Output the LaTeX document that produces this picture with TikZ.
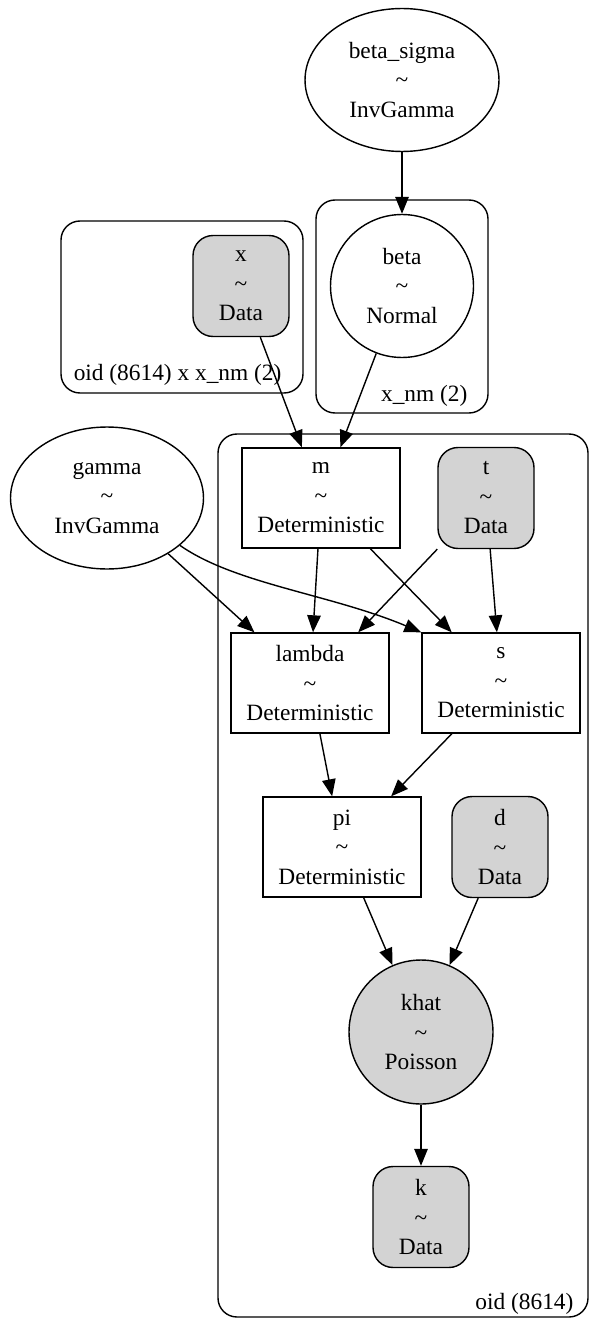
\documentclass[tikz,border=0pt]{standalone}
\usepackage{fontspec}
\setmainfont{Liberation Serif}
\usepackage{xcolor}
\usetikzlibrary{shapes.geometric,arrows.meta}
\definecolor{obsgray}{HTML}{D3D3D3}

\begin{document}
\begin{tikzpicture}[x=0.02cm,y=-0.02cm,>={Triangle[length=0.34cm,width=0.27cm]},line width=0.8pt,
        font=\fontsize{13.3}{16.8}\selectfont,
        var/.style={draw,align=center,inner sep=0pt},
        detbox/.style={var,rectangle,minimum width=3.16cm,minimum height=2cm},
        databox/.style={var,rectangle,rounded corners=0.4cm,fill=obsgray,minimum width=1.92cm,minimum height=2.02cm},
        plate/.style={draw,rounded corners=0.38cm}]
        \useasboundingbox (0,0) rectangle (589,1321);
        % plates
        \draw [plate] (61,221) rectangle (303,393);
        \node [anchor=base east] (platexlab) at (288,380) {oid (8614) x x\_nm (2)};
        \draw [plate] (316,200) rectangle (488,413);
        \node [anchor=base east] (platebetalab) at (474,401) {x\_nm (2)};
        \draw [plate] (218,434) rectangle (588,1317);
        \node [anchor=base east] (plateoidlab) at (580,1309) {oid (8614)};
        % variables
        \node [var,ellipse,minimum width=3.88cm,minimum height=2.86cm] (betasigma) at (402,80) {beta\_sigma\\\textasciitilde\\InvGamma};
        \node [var,circle,minimum size=2.86cm] (beta) at (402,286) {beta\\\textasciitilde\\Normal};
        \node [databox] (x) at (241,286) {x\\\textasciitilde\\Data};
        \node [var,ellipse,minimum width=3.86cm,minimum height=2.84cm] (gamma) at (107,498) {gamma\\\textasciitilde\\InvGamma};
        \node [detbox] (m) at (321,498) {m\\\textasciitilde\\Deterministic};
        \node [databox] (t) at (486,498) {t\\\textasciitilde\\Data};
        \node [detbox] (lambda) at (310,683) {lambda\\\textasciitilde\\Deterministic};
        \node [detbox] (s) at (501,683) {s\\\textasciitilde\\Deterministic};
        \node [detbox] (pi) at (342,847) {pi\\\textasciitilde\\Deterministic};
        \node [databox] (d) at (500,847) {d\\\textasciitilde\\Data};
        \node [var,circle,fill=obsgray,minimum size=2.88cm] (khat) at (421,1032) {khat\\\textasciitilde\\Poisson};
        \node [databox] (k) at (421,1217) {k\\\textasciitilde\\Data};
        % edges
        \draw [->] (betasigma) -- (beta);
        \draw [->] (x) -- (m);
        \draw [->] (beta) -- (m);
        \draw [->] (gamma) -- (lambda);
        \draw [->] (gamma.-33) .. controls (235,584) and (330,594) .. (s.north west);
        \draw [->] (m) -- (lambda);
        \draw [->] (m) -- (s);
        \draw [->] (t) -- (lambda);
        \draw [->] (t) -- (s);
        \draw [->] (lambda) -- (pi);
        \draw [->] (s) -- (pi);
        \draw [->] (pi) -- (khat);
        \draw [->] (d) -- (khat);
        \draw [->] (khat) -- (k);
\end{tikzpicture}
\end{document}
